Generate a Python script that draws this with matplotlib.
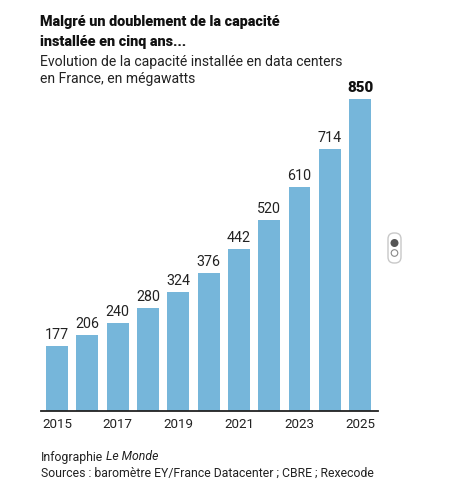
import numpy as np
import matplotlib.pyplot as plt
from matplotlib.patches import FancyBboxPatch, Circle

years = [2015, 2016, 2017, 2018, 2019, 2020, 2021, 2022, 2023, 2024, 2025]
capacity = [177, 206, 240, 280, 324, 376, 442, 520, 610, 714, 850]
tick_years = [2015, 2017, 2019, 2021, 2023, 2025]

title = "Malgré un doublement de la capacité\ninstallée en cinq ans..."
subtitle = "Evolution de la capacité installée en data centers\nen France, en mégawatts"

W, H = 454, 499
fig = plt.figure(figsize=(W / 100, H / 100), dpi=100)
plt.rcParams['font.family'] = ['Roboto', 'DejaVu Sans']

# axes: baseline at y=411px, 850 at y=99px
ax = fig.add_axes([40.7 / W, (H - 411) / H, 337 / W, 312 / H])
ax.bar(years, capacity, width=0.72, color='#76b6da', zorder=2)
ax.set_xlim(2015 - 0.54, 2025 + 0.58)
ax.set_ylim(0, 850)

for x, v in zip(years, capacity):
    bold = x == years[-1]
    ax.annotate(str(v), (x, v), xytext=(0, 3), textcoords='offset points',
                ha='center', va='bottom', fontsize=10.8 if bold else 10.3,
                fontweight=900 if bold else 'normal', color='#111111' if bold else '#222222',
                clip_on=False)

for s in ['top', 'right', 'left']:
    ax.spines[s].set_visible(False)
ax.spines['bottom'].set_color('#222222')
ax.spines['bottom'].set_linewidth(1.3)
ax.set_yticks([])
ax.set_xticks(tick_years)
ax.set_xticklabels([str(y) for y in tick_years], fontsize=9.6, color='#222222')
ax.tick_params(axis='x', length=0, pad=5)

# title and subtitle
for i, line in enumerate(title.split('\n')):
    fig.text(40 / W, 1 - (22 + 20 * i) / H, line, fontsize=10.4, fontweight=900,
             color='#111111', va='center', ha='left')
for i, line in enumerate(subtitle.split('\n')):
    fig.text(40 / W, 1 - (62 + 17 * i) / H, line, fontsize=10.1,
             color='#222222', va='center', ha='left')

# footer
t1 = fig.text(41 / W, 1 - 457 / H, "Infographie", fontsize=8.8, color='#222222',
              va='center', ha='left')
fig.canvas.draw()
bb = t1.get_window_extent()
fig.text((bb.x1 + 3) / W, 1 - 457 / H, "Le Monde", fontsize=8.8, color='#222222',
         va='center', ha='left', style='italic')
fig.text(41 / W, 1 - 473 / H, "Sources : baromètre EY/France Datacenter ; CBRE ; Rexecode",
         fontsize=8.8, color='#222222', va='center', ha='left')

# small slider widget on the right
wax = fig.add_axes([0, 0, 1, 1], facecolor='none')
wax.set_xlim(0, W)
wax.set_ylim(H, 0)
wax.axis('off')
wax.add_patch(FancyBboxPatch((388, 233), 13, 30, boxstyle='round,pad=0,rounding_size=6',
                             fc='white', ec='#c8c8c8', lw=1))
wax.add_patch(Circle((394.5, 243), 3.3, fc='#555555', ec='#555555'))
wax.add_patch(Circle((394.5, 253), 3.3, fc='white', ec='#888888', lw=0.8))

fig.savefig('out.png', dpi=100)
